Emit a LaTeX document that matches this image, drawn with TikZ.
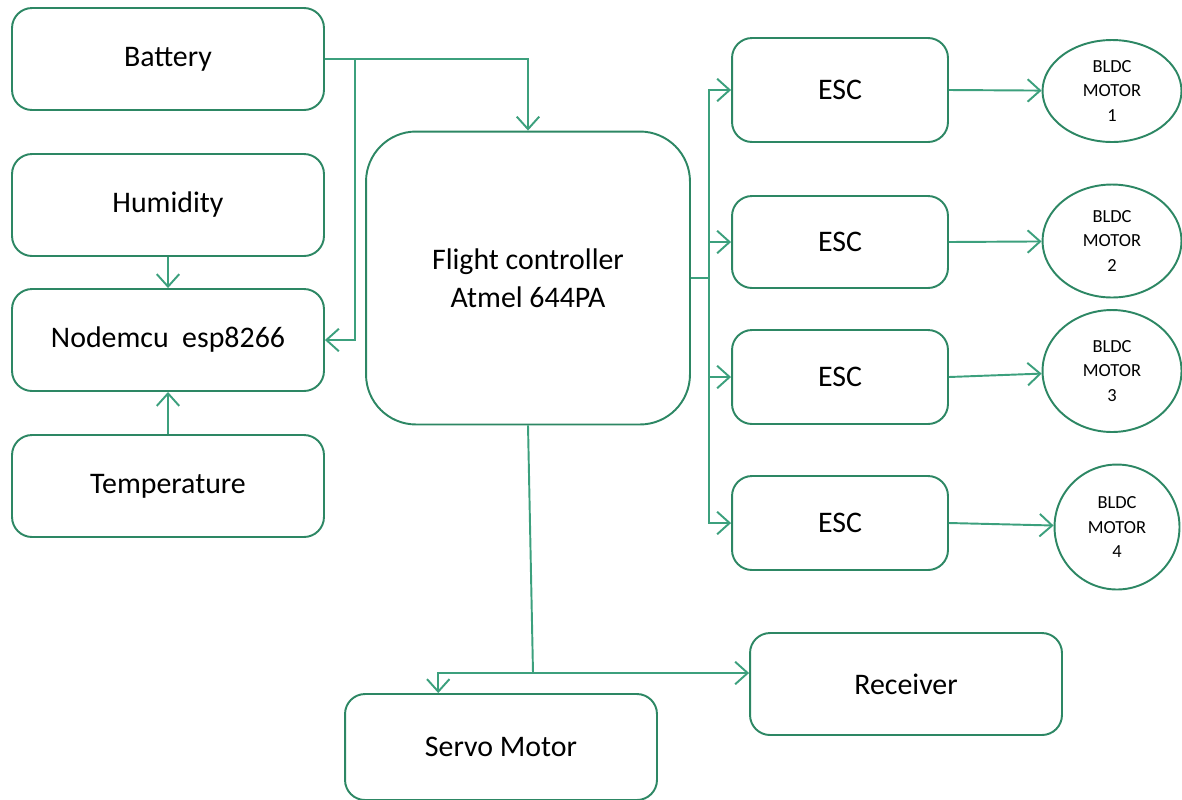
\documentclass[tikz,border=0pt]{standalone}
\usepackage{fontspec}
\setmainfont{Carlito}
\usetikzlibrary{arrows.meta,calc,shapes.geometric}
\definecolor{linegreen}{RGB}{60,160,125}
\definecolor{boxgreen}{RGB}{45,135,100}
\tikzset{
  block/.style={draw=boxgreen, line width=1.1pt, rounded corners=0.4cm,
    inner sep=0pt, minimum width=6.24cm, minimum height=2.04cm,
    font=\fontsize{17}{21.6}\selectfont, align=center},
  escbox/.style={block, minimum width=4.32cm, minimum height=1.9cm},
  motor/.style={draw=boxgreen, line width=1.1pt, ellipse, inner sep=0pt,
    minimum width=2.78cm, font=\fontsize{10.5}{13.7}\selectfont, align=center},
  link/.style={draw=linegreen, line width=1.1pt},
  arr/.style={link, -{Straight Barb[length=2.5mm,width=4.5mm]}}
}
\begin{document}
\begin{tikzpicture}[x=0.02cm, y=-0.02cm]
			\useasboundingbox (0, 0) rectangle (1182, 799);
			
			% left column
			\node[block] (bat) at (168, 59) {Battery};
			\node[block] (hum) at (168, 205) {Humidity};
			\node[block] (mcu) at (168, 340) {Nodemcu\ \ esp8266};
			\node[block] (temp) at (168, 486) {Temperature};
			
			% flight controller
			\node[block, rounded corners=1cm, minimum width=6.48cm, minimum height=5.86cm] (fc) at (528, 278) {Flight controller\\Atmel 644PA};
			
			% ESCs and motors
			\node[escbox, minimum height=2.08cm] (esc1) at (840, 90) {ESC};
			\node[escbox, minimum height=1.84cm] (esc2) at (840, 242) {ESC};
			\node[escbox, minimum height=1.88cm] (esc3) at (840, 377) {ESC};
			\node[escbox, minimum height=1.88cm] (esc4) at (840, 523) {ESC};
			
			\node[motor, minimum height=2.04cm] (m1) at (1112, 91) {BLDC\\MOTOR\\1};
			\node[motor, minimum height=2.26cm] (m2) at (1112, 241) {BLDC\\MOTOR\\2};
			\node[motor, minimum height=2.44cm] (m3) at (1112, 371) {BLDC\\MOTOR\\3};
			\node[motor, minimum width=2.5cm, minimum height=2.5cm] (m4) at (1117, 527) {BLDC\\MOTOR\\4};
			
			% bottom
			\node[block] (rec) at (906, 684) {Receiver};
			\node[block, minimum height=2.12cm] (servo) at (501, 747) {Servo Motor};
			
			% battery feed
			\coordinate (bsplit) at (355, 59);
			\draw[link] (bat.east) -- (bsplit);
			\draw[arr] (bsplit) -| (fc.north);
			\draw[arr] (bsplit) |- (mcu.east);
			
			% sensors
			\draw[arr] (hum.south) -- (mcu.north);
			\draw[arr] (temp.north) -- (mcu.south);
			
			% ESC bus
			\coordinate (bus) at (709, 278);
			\draw[link] (fc.east) -- (bus);
			\foreach \i in {1,...,4}
				\draw[arr] (bus) |- (esc\i.west);
			\foreach \i in {1,...,4}
				\draw[arr] (esc\i.east) -- (m\i);
			
			% servo and receiver
			\coordinate (fork) at (533, 673);
			\draw[link] (fc.south) -- (fork);
			\draw[arr] (fork) -| ($(servo.north west)!0.3!(servo.north east)$);
			\draw[arr] (fork) -- (fork -| rec.west);
			
\end{tikzpicture}
\end{document}
